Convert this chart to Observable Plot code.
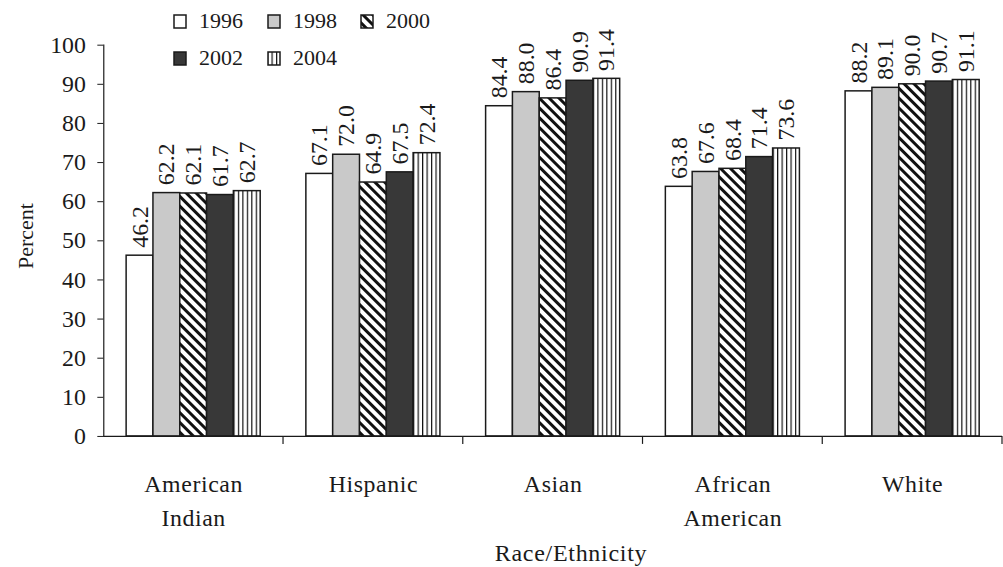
<!DOCTYPE html>
<html>
<head>
<meta charset="utf-8">
<script src="https://cdn.jsdelivr.net/npm/d3@7"></script>
<script src="https://cdn.jsdelivr.net/npm/@observablehq/plot@0.6"></script>
<style>
  body { margin: 0; background: #fff; }
  #wrap { position: relative; width: 1003px; height: 567px; overflow: hidden; background: #fff;
          font-family: "Liberation Serif", "Times New Roman", serif; color: #1a1a1a; }
  .leg { position: absolute; display: flex; align-items: center; font-size: 22px; line-height: 22px; }
  .leg svg { margin-right: 12px; }
  #xtitle { position: absolute; top: 553px; left: 571px; transform: translate(-50%, -50%);
            font-size: 24px; line-height: 24px; letter-spacing: 0.7px; white-space: nowrap; }
  #ytitle { position: absolute; left: 26px; top: 236px; transform: translate(-50%, -50%) rotate(-90deg);
            font-size: 22px; white-space: nowrap; }
</style>
</head>
<body>
<svg width="0" height="0" style="position:absolute">
  <defs>
    <pattern id="p1996" patternUnits="userSpaceOnUse" width="4" height="4">
      <rect width="4" height="4" fill="#ffffff"/>
    </pattern>
    <pattern id="p1998" patternUnits="userSpaceOnUse" width="4" height="4">
      <rect width="4" height="4" fill="#c9c9c9"/>
    </pattern>
    <pattern id="p2000" patternUnits="userSpaceOnUse" width="7" height="7" patternTransform="rotate(-45)">
      <rect width="7" height="7" fill="#ffffff"/>
      <rect width="3" height="7" fill="#111111"/>
    </pattern>
    <pattern id="p2002" patternUnits="userSpaceOnUse" width="4" height="4">
      <rect width="4" height="4" fill="#383838"/>
    </pattern>
    <pattern id="p2004" patternUnits="userSpaceOnUse" width="4.5" height="4">
      <rect width="4.5" height="4" fill="#ffffff"/>
      <rect x="0" width="1.2" height="4" fill="#111111"/>
    </pattern>
  </defs>
</svg>
<div id="wrap"></div>
<script>
// ---- data ----
const categories = ["American Indian", "Hispanic", "Asian", "African American", "White"];
const categoryLabels = ["American\nIndian", "Hispanic", "Asian", "African\nAmerican", "White"];
const years = ["1996", "1998", "2000", "2002", "2004"];
const values1996 = [46.2, 67.1, 84.4, 63.8, 88.2];
const values1998 = [62.2, 72.0, 88.0, 67.6, 89.1];
const values2000 = [62.1, 64.9, 86.4, 68.4, 90.0];
const values2002 = [61.7, 67.5, 90.9, 71.4, 90.7];
const values2004 = [62.7, 72.4, 91.4, 73.6, 91.1];
const yTicks = [0, 10, 20, 30, 40, 50, 60, 70, 80, 90, 100];
const fills = ["url(#p1996)", "url(#p1998)", "url(#p2000)", "url(#p2002)", "url(#p2004)"];

const series = [values1996, values1998, values2000, values2002, values2004];
const data = [];
categories.forEach((c, i) => years.forEach((yr, j) => data.push({cat: c, year: yr, value: series[j][i]})));
const labelData = categories.map((c, i) => ({cat: c, label: categoryLabels[i]}));

const ink = "#1a1a1a";
const font = '"Liberation Serif", "Times New Roman", serif';

const chart = Plot.plot({
  width: 1010,
  height: 567,
  marginLeft: 103,
  marginRight: 0,
  marginTop: 45,
  marginBottom: 128,
  style: {fontFamily: font, color: ink, background: "transparent"},
  fx: {domain: categories, padding: 0, axis: null},
  x: {domain: years, paddingInner: 0, paddingOuter: 0.77, axis: null},
  y: {domain: [0, 100], axis: null},
  color: {domain: years, range: fills},
  marks: [
    Plot.barY(data, {fx: "cat", x: "year", y: "value", fill: "year", stroke: ink, strokeWidth: 1.5}),
    Plot.text(data, {fx: "cat", x: "year", y: "value", text: d => d.value.toFixed(1),
      rotate: -90, textAnchor: "start", dy: -8, fontSize: 24, fill: ink}),
    Plot.ruleY([0], {stroke: ink, strokeWidth: 1.2}),
    Plot.frame({anchor: "left", facetAnchor: "left", stroke: ink, strokeWidth: 1.2}),
    Plot.axisY({ticks: yTicks, tickSize: 6, tickFormat: () => "", label: null, stroke: ink}),
    Plot.text(yTicks, {y: d => d, text: d => String(d), facetAnchor: "left", frameAnchor: "left",
      textAnchor: "end", dx: -18, fontSize: 24, fill: ink}),
    Plot.text(labelData, {fx: "cat", text: "label", frameAnchor: "bottom", lineAnchor: "top",
      dy: 32, lineHeight: 1.42, fontSize: 24, fill: ink})
  ]
});

const root = chart.tagName.toLowerCase() === "svg" ? chart : chart.querySelector("svg");
const svg = d3.select(root);

// slight letter spacing on the category labels, like the original
svg.selectAll("text").each(function() {
  if (/[A-Za-z]/.test(this.textContent)) d3.select(this).style("letter-spacing", "0.6px");
});

// group boundary ticks on the x axis, placed through the fx and y scales
const fxs = chart.scale("fx"), ys = chart.scale("y");
const y0 = ys.apply(0);
categories.forEach(c => {
  const xb = fxs.apply(c) + fxs.bandwidth;
  svg.append("line").attr("x1", xb).attr("x2", xb).attr("y1", y0).attr("y2", y0 + 8)
    .attr("stroke", ink).attr("stroke-width", 1.2);
});

const wrap = document.getElementById("wrap");
wrap.appendChild(chart);

// legend
const legendPos = [[173, 10], [267, 10], [360, 10], [173, 47], [267, 47]];
years.forEach((yr, j) => {
  const el = document.createElement("div");
  el.className = "leg";
  el.style.left = legendPos[j][0] + "px";
  el.style.top = legendPos[j][1] + "px";
  el.innerHTML = `<svg width="14" height="15"><rect x="1" y="1" width="12" height="13" fill="${fills[j]}" stroke="${ink}" stroke-width="1.5"/></svg><span>${yr}</span>`;
  wrap.appendChild(el);
});

const xt = document.createElement("div");
xt.id = "xtitle";
xt.textContent = "Race/Ethnicity";
wrap.appendChild(xt);

const yt = document.createElement("div");
yt.id = "ytitle";
yt.textContent = "Percent";
wrap.appendChild(yt);
</script>
</body>
</html>
